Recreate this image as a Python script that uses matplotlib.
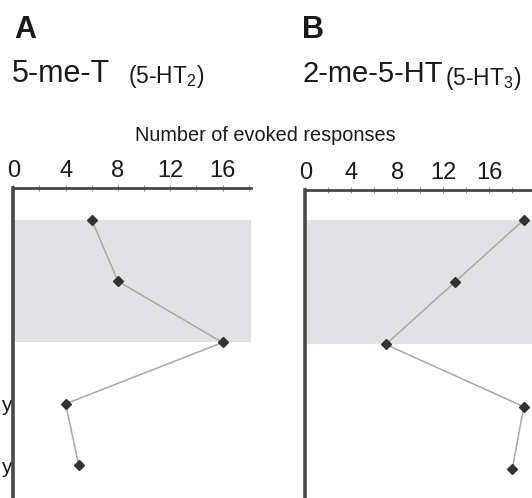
import matplotlib
matplotlib.use("Agg")
import matplotlib.pyplot as plt
import numpy as np

plt.rcParams['font.family'] = ['Liberation Sans', 'DejaVu Sans']
plt.rcParams['mathtext.fontset'] = 'custom'
plt.rcParams['mathtext.rm'] = 'Liberation Sans'

# number of evoked responses per row (top to bottom)
rows = [0, 1, 2, 3, 4]
row_labels = ["", "", "", "y", "y"]
resp_5meT = [6, 8, 16, 4, 5]
resp_2me5HT = [19, 13, 7, 19, 18]
band_rows = (0, 2)   # shaded rows
ticks = list(range(0, 19, 2))
tick_labels = [str(t) if t % 4 == 0 else "" for t in ticks]

W, H = 532, 498
fig = plt.figure(figsize=(W / 100, H / 100), dpi=100)

spine_col = "#484848"
line_col = "#a8a8a8"
mark_col = "#333333"
band_col = "#e2e2e4"


def panel(rect, vals, xmax, ylim, show_ylabels):
    ax = fig.add_axes(rect)
    ax.axhspan(band_rows[0], band_rows[1], color=band_col, lw=0, zorder=0)
    ax.plot(vals, rows, '-', color=line_col, lw=1.1, zorder=2)
    ax.plot(vals, rows, 'D', color=mark_col, ms=5, zorder=3)
    ax.set_xlim(0, xmax)
    ax.set_ylim(*ylim)
    ax.xaxis.tick_top()
    ax.set_xticks(ticks)
    ax.set_xticklabels(tick_labels, fontsize=17, color="#1a1a1a")
    ax.tick_params(axis='x', direction='inout', length=4, width=0.8,
                   color="#909090", pad=2.5)
    ax.set_yticks(rows)
    if show_ylabels:
        ax.set_yticklabels(row_labels, fontsize=15, color="#1a1a1a")
    else:
        ax.set_yticklabels([])
    ax.tick_params(axis='y', length=0, pad=1.5)
    for s in ['right', 'bottom']:
        ax.spines[s].set_visible(False)
    ax.spines['top'].set_color(spine_col)
    ax.spines['top'].set_linewidth(2)
    ax.spines['left'].set_color(spine_col)
    ax.spines['left'].set_linewidth(2.6)
    ax.patch.set_alpha(0)
    return ax


# left panel: 0 at x=13.3px, 1 unit = 13.1px
panel([13.3 / W, 1 / H, 238 / W, 309 / H], resp_5meT, 18.2, (4.52, -0.52), True)
# right panel: 0 at x=305.3px, 1 unit = 11.5px
panel([305.3 / W, 1 / H, (W - 305.3) / W, 307 / H], resp_2me5HT, (W - 305.3) / 11.5,
      (4.45, -0.48), False)

def ftxt(x, y, s, **kw):
    fig.text(x / W, 1 - y / H, s, va='baseline', color="#1a1a1a", **kw)

ftxt(14, 38, "A", fontsize=22, fontweight='bold')
ftxt(302, 38, "B", fontsize=22, fontweight='bold')
ftxt(12, 82, "5-me-T", fontsize=22)
ftxt(128, 83, "(5-HT$_2$)", fontsize=16.5)
ftxt(303, 82, "2-me-5-HT", fontsize=21)
ftxt(445, 85, "(5-HT$_3$)", fontsize=16.5)
fig.text(265.5 / W, 1 - 141 / H, "Number of evoked responses", fontsize=14.3,
         ha='center', va='baseline', color="#1a1a1a")

fig.savefig("out.png", dpi=100)
